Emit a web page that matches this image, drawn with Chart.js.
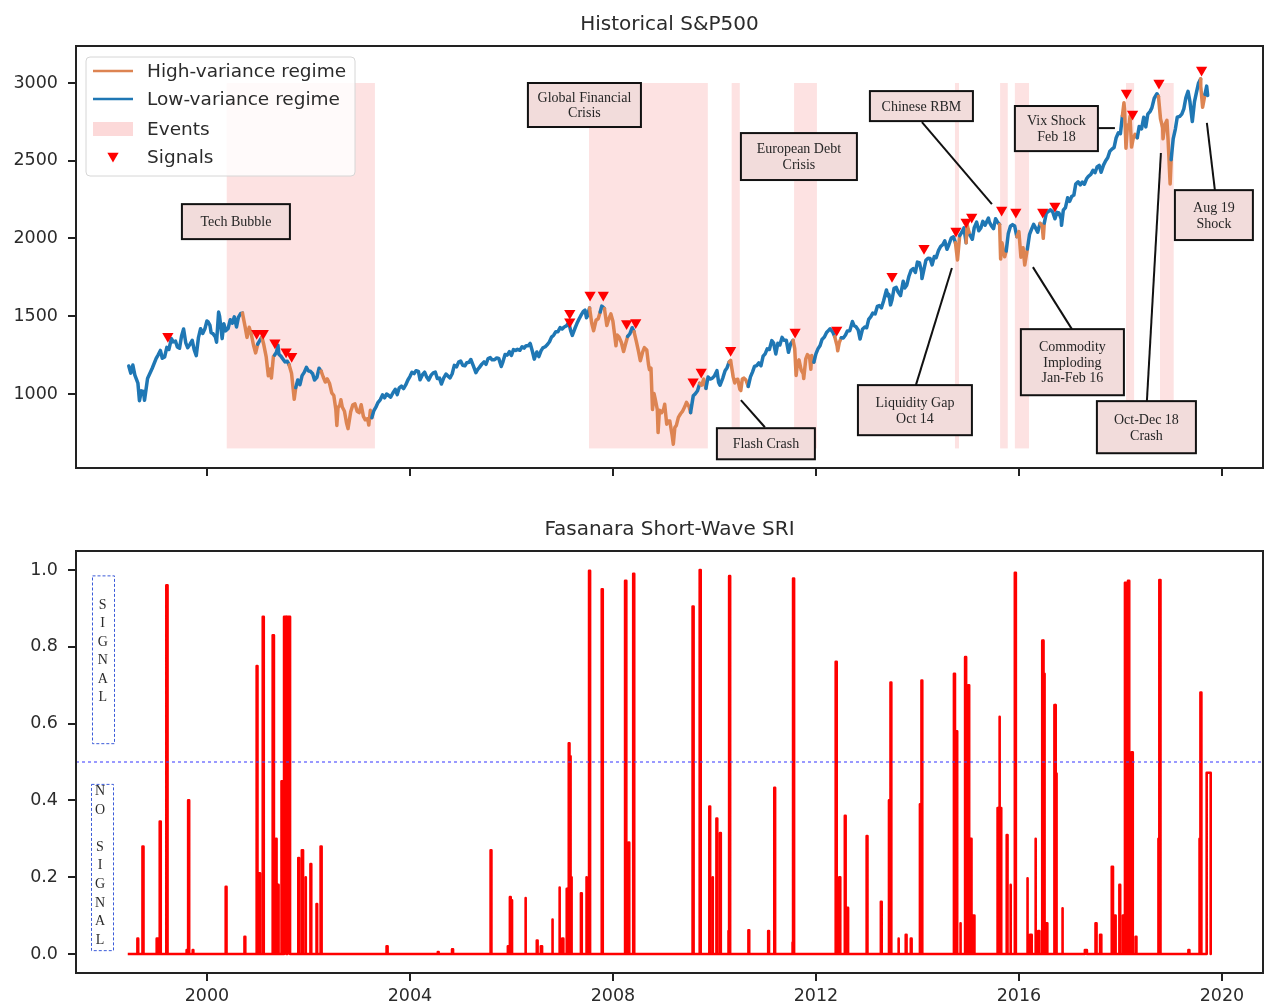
<!DOCTYPE html>
<html><head><meta charset="utf-8">
<script src="https://cdn.jsdelivr.net/npm/chart.js@4.4.1/dist/chart.umd.min.js"></script>
<style>
html,body{margin:0;padding:0;background:#fff;}
#wrap{position:relative;width:1265px;height:1006px;overflow:hidden;}
#c1{position:absolute;left:0;top:0;}
#c2{position:absolute;left:0;top:490px;}
</style></head><body>
<div id="wrap"><canvas id="c1" width="1265" height="490"></canvas><canvas id="c2" width="1265" height="516"></canvas></div>
<script>
// ---------------- DATA ----------------
const spTitle = 'Historical S&P500';
const sriTitle = 'Fasanara Short-Wave SRI';
const xTicks = [2000, 2004, 2008, 2012, 2016, 2020];
const spYTicks = [1000, 1500, 2000, 2500, 3000];
const sriYTicks = [0, 0.2, 0.4, 0.6, 0.8, 1.0];
const legendLabels = ['High-variance regime', 'Low-variance regime', 'Events', 'Signals'];

// S&P500 level [decimal year, index]
const spPoints = [
[1998.46,1180],[1998.50,1134],[1998.54,1186],[1998.58,1121],[1998.64,1070],[1998.67,957],[1998.71,1020],[1998.75,1017],[1998.77,960],[1998.83,1099],[1998.92,1164],
[1999.00,1229],[1999.04,1252],[1999.083,1280],[1999.12,1230],[1999.167,1238],[1999.21,1300],[1999.25,1286],[1999.30,1356],[1999.333,1335],[1999.38,1340],[1999.417,1302],[1999.46,1294],[1999.50,1373],[1999.54,1418],[1999.583,1329],[1999.62,1298],[1999.667,1320],[1999.71,1345],[1999.75,1283],[1999.79,1247],[1999.833,1363],[1999.875,1420],[1999.917,1389],[1999.96,1420],
[2000.00,1469],[2000.02,1465],[2000.06,1441],[2000.083,1394],[2000.12,1388],[2000.167,1366],[2000.19,1333],[2000.23,1527],[2000.25,1499],[2000.30,1356],[2000.333,1452],[2000.37,1406],[2000.417,1421],[2000.46,1478],[2000.50,1455],[2000.54,1496],[2000.583,1431],[2000.62,1492],[2000.667,1518],[2000.70,1520],[2000.75,1437],[2000.79,1364],[2000.833,1429],[2000.875,1383],[2000.917,1315],[2000.96,1264],
[2001.00,1320],[2001.04,1343],[2001.083,1366],[2001.12,1318],[2001.167,1240],[2001.21,1117],[2001.25,1160],[2001.27,1103],[2001.31,1242],[2001.333,1250],[2001.37,1268],[2001.40,1313],[2001.417,1256],[2001.46,1242],[2001.50,1224],[2001.54,1206],[2001.583,1211],[2001.62,1187],[2001.667,1134],[2001.72,966],[2001.75,1041],[2001.79,1090],[2001.833,1060],[2001.875,1118],[2001.917,1139],[2001.96,1171],
[2002.00,1148],[2002.04,1146],[2002.083,1130],[2002.12,1090],[2002.167,1107],[2002.21,1166],[2002.25,1147],[2002.29,1111],[2002.333,1077],[2002.37,1097],[2002.417,1067],[2002.46,1007],[2002.50,990],[2002.54,900],[2002.56,798],[2002.583,912],[2002.62,930],[2002.64,963],[2002.667,916],[2002.71,889],[2002.75,815],[2002.78,777],[2002.833,886],[2002.875,930],[2002.917,936],[2002.96,889],
[2003.00,880],[2003.04,931],[2003.083,856],[2003.12,834],[2003.167,841],[2003.19,800],[2003.22,895],[2003.25,848],[2003.29,893],[2003.333,917],[2003.37,945],[2003.417,964],[2003.46,994],[2003.50,975],[2003.54,1000],[2003.583,990],[2003.62,980],[2003.667,1008],[2003.71,1030],[2003.75,996],[2003.79,1040],[2003.833,1051],[2003.875,1035],[2003.917,1058],[2003.96,1090],
[2004.00,1112],[2004.04,1140],[2004.083,1131],[2004.12,1150],[2004.167,1145],[2004.20,1091],[2004.25,1126],[2004.29,1140],[2004.333,1107],[2004.37,1090],[2004.417,1121],[2004.46,1136],[2004.50,1141],[2004.54,1100],[2004.583,1102],[2004.62,1064],[2004.667,1104],[2004.71,1128],[2004.75,1115],[2004.79,1104],[2004.833,1130],[2004.875,1184],[2004.917,1174],[2004.96,1205],
[2005.00,1212],[2005.04,1185],[2005.083,1181],[2005.12,1201],[2005.167,1204],[2005.20,1222],[2005.25,1181],[2005.30,1137],[2005.333,1157],[2005.37,1171],[2005.417,1192],[2005.46,1206],[2005.50,1191],[2005.54,1228],[2005.583,1234],[2005.62,1220],[2005.667,1220],[2005.71,1232],[2005.75,1229],[2005.80,1177],[2005.833,1207],[2005.875,1254],[2005.917,1250],[2005.96,1272],
[2006.00,1248],[2006.04,1285],[2006.083,1280],[2006.12,1287],[2006.167,1281],[2006.21,1304],[2006.25,1295],[2006.29,1311],[2006.333,1311],[2006.37,1325],[2006.417,1270],[2006.45,1224],[2006.50,1270],[2006.54,1240],[2006.583,1277],[2006.62,1297],[2006.667,1304],[2006.71,1318],[2006.75,1336],[2006.79,1366],[2006.833,1378],[2006.875,1401],[2006.917,1401],[2006.96,1427],
[2007.00,1418],[2007.04,1431],[2007.083,1438],[2007.13,1460],[2007.167,1407],[2007.20,1377],[2007.25,1421],[2007.29,1453],[2007.333,1482],[2007.37,1505],[2007.417,1531],[2007.45,1539],[2007.48,1490],[2007.50,1503],[2007.54,1553],[2007.583,1455],[2007.62,1407],[2007.667,1474],[2007.71,1484],[2007.75,1527],[2007.78,1565],[2007.833,1549],[2007.88,1440],[2007.917,1481],[2007.96,1515],
[2008.00,1468],[2008.03,1390],[2008.06,1310],[2008.083,1379],[2008.12,1367],[2008.167,1331],[2008.21,1273],[2008.25,1323],[2008.29,1370],[2008.333,1386],[2008.38,1426],[2008.417,1400],[2008.46,1340],[2008.50,1280],[2008.54,1214],[2008.583,1267],[2008.62,1298],[2008.667,1283],[2008.70,1192],[2008.72,1156],[2008.75,1166],[2008.78,900],[2008.81,1003],[2008.833,969],[2008.875,900],[2008.89,752],[2008.917,896],[2008.96,880],
[2009.00,903],[2009.02,934],[2009.06,806],[2009.083,826],[2009.12,827],[2009.167,735],[2009.19,677],[2009.22,784],[2009.25,798],[2009.29,850],[2009.333,873],[2009.37,888],[2009.417,919],[2009.45,946],[2009.50,919],[2009.53,880],[2009.583,988],[2009.62,1000],[2009.667,1021],[2009.71,1068],[2009.75,1057],[2009.79,1096],[2009.833,1036],[2009.875,1109],[2009.917,1096],[2009.96,1102],
[2010.00,1115],[2010.05,1150],[2010.083,1074],[2010.11,1056],[2010.167,1104],[2010.21,1150],[2010.25,1169],[2010.29,1205],[2010.32,1217],[2010.333,1187],[2010.37,1110],[2010.40,1071],[2010.417,1089],[2010.46,1095],[2010.50,1031],[2010.52,1022],[2010.55,1096],[2010.583,1102],[2010.62,1090],[2010.667,1049],[2010.71,1110],[2010.75,1141],[2010.79,1177],[2010.833,1183],[2010.875,1200],[2010.917,1181],[2010.96,1243],
[2011.00,1258],[2011.04,1290],[2011.083,1286],[2011.13,1343],[2011.167,1327],[2011.21,1257],[2011.25,1326],[2011.29,1315],[2011.333,1364],[2011.37,1346],[2011.417,1345],[2011.46,1268],[2011.50,1321],[2011.55,1345],[2011.583,1292],[2011.61,1119],[2011.64,1204],[2011.667,1219],[2011.71,1154],[2011.75,1131],[2011.76,1099],[2011.80,1225],[2011.833,1253],[2011.875,1238],[2011.90,1159],[2011.917,1247],[2011.96,1205],
[2012.00,1258],[2012.04,1290],[2012.083,1312],[2012.12,1351],[2012.167,1366],[2012.21,1395],[2012.25,1409],[2012.28,1419],[2012.333,1398],[2012.37,1369],[2012.417,1310],[2012.43,1278],[2012.46,1330],[2012.50,1362],[2012.54,1360],[2012.583,1379],[2012.62,1405],[2012.667,1407],[2012.72,1466],[2012.75,1441],[2012.79,1433],[2012.833,1412],[2012.87,1353],[2012.917,1416],[2012.96,1430],
[2013.00,1426],[2013.04,1480],[2013.083,1498],[2013.12,1520],[2013.167,1515],[2013.21,1563],[2013.25,1569],[2013.29,1553],[2013.333,1598],[2013.39,1669],[2013.417,1631],[2013.44,1640],[2013.47,1573],[2013.50,1606],[2013.54,1680],[2013.583,1686],[2013.62,1656],[2013.667,1633],[2013.72,1725],[2013.75,1682],[2013.79,1700],[2013.833,1757],[2013.875,1795],[2013.917,1806],[2013.96,1782],
[2014.00,1848],[2014.04,1845],[2014.083,1783],[2014.09,1742],[2014.167,1860],[2014.21,1873],[2014.25,1872],[2014.29,1830],[2014.333,1884],[2014.37,1877],[2014.417,1924],[2014.46,1950],[2014.50,1960],[2014.54,1985],[2014.583,1931],[2014.62,1960],[2014.667,2003],[2014.71,2011],[2014.75,1972],[2014.79,1862],[2014.833,2018],[2014.875,2040],[2014.917,2068],[2014.96,1972],[2014.98,2090],
[2015.00,2059],[2015.04,2020],[2015.083,1995],[2015.12,2070],[2015.167,2105],[2015.21,2050],[2015.25,2068],[2015.29,2110],[2015.333,2086],[2015.40,2131],[2015.417,2107],[2015.46,2080],[2015.50,2063],[2015.54,2127],[2015.583,2104],[2015.62,2090],[2015.64,1868],[2015.667,1972],[2015.72,1882],[2015.75,1920],[2015.79,2030],[2015.833,2079],[2015.875,2089],[2015.917,2080],[2015.96,2012],
[2016.00,2044],[2016.04,1880],[2016.083,1940],[2016.115,1829],[2016.167,1932],[2016.21,2027],[2016.25,2060],[2016.29,2091],[2016.333,2065],[2016.37,2040],[2016.417,2097],[2016.46,2080],[2016.48,2001],[2016.50,2099],[2016.54,2163],[2016.583,2174],[2016.62,2184],[2016.667,2171],[2016.71,2127],[2016.75,2168],[2016.79,2164],[2016.833,2126],[2016.84,2085],[2016.875,2182],[2016.917,2199],[2016.96,2262],
[2017.00,2239],[2017.04,2270],[2017.083,2279],[2017.12,2350],[2017.167,2364],[2017.21,2345],[2017.25,2363],[2017.29,2349],[2017.333,2384],[2017.37,2400],[2017.417,2412],[2017.46,2438],[2017.50,2423],[2017.54,2460],[2017.583,2470],[2017.62,2426],[2017.667,2472],[2017.71,2500],[2017.75,2519],[2017.79,2560],[2017.833,2575],[2017.875,2585],[2017.917,2648],[2017.96,2680],
[2018.00,2674],[2018.04,2790],[2018.07,2873],[2018.083,2824],[2018.11,2581],[2018.14,2730],[2018.167,2714],[2018.19,2786],[2018.22,2588],[2018.25,2641],[2018.29,2670],[2018.333,2648],[2018.37,2720],[2018.417,2705],[2018.46,2780],[2018.50,2718],[2018.54,2800],[2018.583,2816],[2018.62,2840],[2018.667,2902],[2018.72,2931],[2018.75,2914],[2018.79,2770],[2018.833,2712],[2018.84,2641],[2018.875,2730],[2018.917,2760],[2018.94,2633],[2018.98,2351],
[2019.00,2507],[2019.04,2640],[2019.083,2704],[2019.12,2780],[2019.167,2785],[2019.21,2800],[2019.25,2834],[2019.29,2905],[2019.333,2946],[2019.37,2880],[2019.417,2752],[2019.46,2880],[2019.50,2942],[2019.54,3000],[2019.58,3025],[2019.583,2980],[2019.62,2844],[2019.667,2927],[2019.70,2980],[2019.72,2920]
];

// high-variance regime periods [start, end]
const highVarPeriods = [
[2000.71,2001.00],[2001.10,2001.34],[2001.64,2001.77],[2002.27,2003.27],
[2007.55,2007.74],[2007.84,2008.28],[2008.43,2009.52],[2009.71,2009.85],
[2010.30,2010.66],[2011.55,2011.98],[2012.38,2012.50],[2014.74,2014.84],
[2014.95,2015.03],[2015.63,2015.76],[2015.96,2016.16],[2016.41,2016.51],
[2018.05,2018.33],[2018.74,2019.01],[2019.57,2019.67]
];

// event windows [start, end]
const eventPeriods = [
[2000.39,2003.31],[2007.53,2009.87],[2010.34,2010.50],[2011.57,2012.02],
[2014.74,2014.82],[2015.63,2015.78],[2015.92,2016.20],[2018.11,2018.27],[2018.78,2019.05]
];
const eventTop = 3000;
const eventBottom = 650;

// signals [decimal year, level]
const signalPoints = [
[1999.23,1372],[2000.98,1391],[2001.11,1391],[2001.34,1329],[2001.56,1271],[2001.67,1243],
[2007.15,1520],[2007.15,1464],[2007.55,1636],[2007.81,1636],[2008.27,1454],[2008.45,1460],
[2009.58,1078],[2009.74,1142],[2010.32,1282],[2011.59,1398],[2012.41,1411],
[2013.50,1758],[2014.13,1938],[2014.76,2048],[2014.96,2106],[2015.07,2138],
[2015.66,2183],[2015.94,2170],[2016.47,2170],[2016.71,2209],
[2018.12,2936],[2018.24,2800],[2018.76,3000],[2019.60,3084]
];

// SRI spikes [decimal year, peak value, trading days elevated]
const sriSpikes = [
[1998.63,0.04,4],[1998.73,0.28,5],[1999.01,0.04,6],[1999.07,0.345,5],[1999.20,0.96,6],[1999.60,0.01,3],[1999.63,0.40,5],[1999.72,0.01,3],
[2000.37,0.175,4],[2000.74,0.045,4],[2000.98,0.75,4],[2001.03,0.21,4],[2001.10,0.878,5],[2001.285,0.76,3],[2001.30,0.83,5],[2001.36,0.30,3],[2001.40,0.18,3],[2001.47,0.45,4],
[2001.52,0.878,10],[2001.57,0.25,3],[2001.59,0.878,12],[2001.80,0.25,4],[2001.87,0.27,6],[2001.94,0.20,3],[2002.04,0.234,4],[2002.16,0.13,3],[2002.24,0.28,5],
[2003.54,0.02,5],[2004.55,0.005,4],[2004.83,0.012,5],[2005.59,0.27,4],[2005.93,0.02,4],[2005.97,0.148,4],[2006.00,0.14,3],[2006.27,0.146,4],[2006.50,0.035,4],[2006.58,0.02,6],
[2006.80,0.09,4],[2006.94,0.173,4],[2007.00,0.04,6],[2007.09,0.17,3],[2007.13,0.549,3],[2007.145,0.515,3],[2007.17,0.20,4],[2007.37,0.158,4],[2007.47,0.20,4],[2007.53,0.998,5],
[2007.78,0.95,5],[2008.24,0.972,6],[2008.31,0.29,3],[2008.40,0.99,5],[2009.57,0.905,5],[2009.71,1.0,5],[2009.90,0.384,4],[2009.96,0.20,3],[2010.04,0.353,4],[2010.11,0.315,4],
[2010.27,0.06,3],[2010.29,0.984,5],[2010.67,0.062,4],[2011.06,0.06,4],[2011.18,0.433,4],[2011.53,0.03,4],[2011.55,0.978,5],[2012.39,0.761,5],[2012.46,0.20,5],[2012.57,0.36,4],
[2012.61,0.12,6],[2013.00,0.307,4],[2013.28,0.136,4],[2013.44,0.40,3],[2013.47,0.707,4],[2013.62,0.04,4],[2013.77,0.05,4],[2013.87,0.04,4],[2014.05,0.39,3],[2014.08,0.712,4],
[2014.72,0.73,5],[2014.76,0.58,6],[2014.84,0.08,4],[2014.94,0.773,5],[2015.00,0.70,5],[2015.05,0.30,4],[2015.10,0.10,6],[2015.58,0.38,3],[2015.61,0.618,4],[2015.64,0.38,3],
[2015.76,0.31,4],[2015.83,0.18,3],[2015.92,0.993,5],[2016.16,0.197,4],[2016.22,0.05,8],[2016.32,0.30,4],[2016.38,0.06,6],[2016.46,0.816,4],[2016.49,0.73,4],[2016.54,0.08,5],
[2016.70,0.648,4],[2016.73,0.47,3],[2016.85,0.119,4],[2017.30,0.01,10],[2017.51,0.08,5],[2017.60,0.05,6],[2017.83,0.227,6],[2017.89,0.10,4],[2017.98,0.18,4],[2018.05,0.10,3],
[2018.09,0.967,6],[2018.15,0.972,6],[2018.22,0.525,6],[2018.30,0.045,4],[2018.75,0.30,3],[2018.77,0.974,5],[2019.34,0.01,5],[2019.56,0.30,3],[2019.58,0.681,4],[2019.70,0.472,20]
];
const sriSpan = [1998.44, 2019.79];
const sriThreshold = 0.5;

// ---------------- LAYOUT / STYLE ----------------
const X_MIN = 1997.42, X_MAX = 2020.81;
const BLUE = '#1f77b4', ORANGE = '#dd8452', EVENT = '#fde2e2', RED = '#ff0000';
const FONT = 'DejaVu Sans';
const SERIF = '"Liberation Serif", "DejaVu Serif", serif';
const annotations = [
 {text:['Tech Bubble'], x:[1999.507,2001.635], y:[2221,1996]},
 {text:['Global Financial','Crisis'], x:[2006.325,2008.552], y:[3000,2717]},
 {text:['European Debt','Crisis'], x:[2010.522,2012.808], y:[2678,2376]},
 {text:['Flash Crash'], x:[2010.049,2011.980], y:[780,580], link:[[2010.995,786],[2010.522,960]]},
 {text:['Chinese RBM'], x:[2013.064,2015.094], y:[2948,2755], link:[[2014.089,2749],[2015.468,2221]]},
 {text:['Vix Shock','Feb 18'], x:[2015.921,2017.557], y:[2852,2562], link:[[2017.557,2710],[2017.892,2710]]},
 {text:['Aug 19','Shock'], x:[2019.074,2020.611], y:[2311,1990], link:[[2019.862,2311],[2019.704,2743]]},
 {text:['Liquidity Gap','Oct 14'], x:[2012.828,2015.074], y:[1057,735], link:[[2013.970,1057],[2014.680,1810]]},
 {text:['Commodity','Imploding','Jan-Feb 16'], x:[2016.039,2018.069], y:[1417,992], link:[[2017.044,1417],[2016.276,1816]]},
 {text:['Oct-Dec 18','Crash'], x:[2017.537,2019.488], y:[954,619], link:[[2018.522,954],[2018.798,2550]]}
];

Chart.defaults.font.family = FONT;
Chart.defaults.color = '#333';

function isHigh(x) {
  for (const [s, e] of highVarPeriods) if (x >= s && x < e) return true;
  return false;
}

function axisGrid() {
  return {display:true, drawOnChartArea:false, drawTicks:true, tickLength:8, tickWidth:2, tickColor:'#222', lineWidth:2, color:'#222'};
}
function xScale(showLabels, h) {
  return {
    type:'linear', min:X_MIN, max:X_MAX,
    afterBuildTicks: s => { s.ticks = xTicks.map(v => ({value:v})); },
    afterFit: s => { s.height = h; },
    grid: axisGrid(), border:{display:false},
    ticks:{autoSkip:false, maxRotation:0, padding:5, font:{size:17.5}, color:'#2b2b2b',
           callback: v => showLabels ? String(v) : ''}
  };
}
function yScale(min, max, ticks, fmt) {
  return {
    type:'linear', min, max,
    afterBuildTicks: s => { s.ticks = ticks.map(v => ({value:v})); },
    afterFit: s => { s.width = 76; },
    grid: axisGrid(), border:{display:false},
    ticks:{autoSkip:false, padding:10, font:{size:17.5}, color:'#2b2b2b', callback: fmt}
  };
}

function titlePlugin(text, y) {
  return {
    id:'centeredTitle',
    afterDraw(chart) {
      const a = chart.chartArea, c = chart.ctx;
      c.save();
      c.fillStyle = '#2b2b2b'; c.font = '20px ' + FONT;
      c.textAlign = 'center'; c.textBaseline = 'middle';
      c.fillText(text, (a.left + a.right) / 2, y);
      c.restore();
    }
  };
}

const framePlugin = {
  id:'frame',
  afterDraw(chart) {
    const a = chart.chartArea, c = chart.ctx;
    c.save(); c.strokeStyle = '#222'; c.lineWidth = 2;
    c.strokeRect(a.left, a.top, a.right - a.left, a.bottom - a.top);
    c.restore();
  }
};

const eventsPlugin = {
  id:'events',
  beforeDatasetsDraw(chart) {
    const c = chart.ctx, xs = chart.scales.x, ys = chart.scales.y, a = chart.chartArea;
    c.save();
    c.beginPath(); c.rect(a.left, a.top, a.right - a.left, a.bottom - a.top); c.clip();
    c.fillStyle = EVENT;
    const yt = ys.getPixelForValue(eventTop), yb = ys.getPixelForValue(eventBottom);
    for (const [s, e] of eventPeriods) {
      const x0 = xs.getPixelForValue(s), x1 = xs.getPixelForValue(e);
      c.fillRect(x0, yt, x1 - x0, yb - yt);
    }
    c.restore();
  }
};

const annoPlugin = {
  id:'anno',
  afterDatasetsDraw(chart) {
    const c = chart.ctx, xs = chart.scales.x, ys = chart.scales.y;
    c.save();
    c.strokeStyle = '#111'; c.lineWidth = 2;
    for (const an of annotations) {
      if (!an.link) continue;
      c.beginPath();
      c.moveTo(xs.getPixelForValue(an.link[0][0]), ys.getPixelForValue(an.link[0][1]));
      c.lineTo(xs.getPixelForValue(an.link[1][0]), ys.getPixelForValue(an.link[1][1]));
      c.stroke();
    }
    for (const an of annotations) {
      const x0 = xs.getPixelForValue(an.x[0]), x1 = xs.getPixelForValue(an.x[1]);
      const y0 = ys.getPixelForValue(an.y[0]), y1 = ys.getPixelForValue(an.y[1]);
      c.fillStyle = '#f2dcdb';
      c.fillRect(x0, y0, x1 - x0, y1 - y0);
      c.strokeStyle = '#111'; c.lineWidth = 2;
      c.strokeRect(x0, y0, x1 - x0, y1 - y0);
      c.fillStyle = '#262626';
      c.font = '14px ' + SERIF;
      c.textAlign = 'center'; c.textBaseline = 'middle';
      const lh = 15.5, cx = (x0 + x1) / 2, cy = (y0 + y1) / 2;
      const n = an.text.length;
      an.text.forEach((t, i) => c.fillText(t, cx, cy + (i - (n - 1) / 2) * lh + 1));
    }
    c.restore();
  }
};

function rr(c, x, y, w, h, r) {
  c.beginPath();
  c.moveTo(x + r, y); c.lineTo(x + w - r, y); c.arcTo(x + w, y, x + w, y + r, r);
  c.lineTo(x + w, y + h - r); c.arcTo(x + w, y + h, x + w - r, y + h, r);
  c.lineTo(x + r, y + h); c.arcTo(x, y + h, x, y + h - r, r);
  c.lineTo(x, y + r); c.arcTo(x, y, x + r, y, r); c.closePath();
}
function tri(c, x, y, r) {
  c.beginPath();
  c.moveTo(x, y + r);
  c.lineTo(x - r * 0.866, y - r * 0.5);
  c.lineTo(x + r * 0.866, y - r * 0.5);
  c.closePath(); c.fill();
}

const legendPlugin = {
  id:'legendBox',
  afterDatasetsDraw(chart) {
    const c = chart.ctx, a = chart.chartArea;
    const L = a.left, T = a.top;
    c.save();
    rr(c, L + 10, T + 11, 269, 119, 4);
    c.fillStyle = 'rgba(255,255,255,0.82)'; c.fill();
    c.strokeStyle = '#d6d6d6'; c.lineWidth = 1; c.stroke();
    const rows = [T + 25, T + 53, T + 83, T + 111];
    c.lineWidth = 2.5;
    c.strokeStyle = ORANGE; c.beginPath(); c.moveTo(L + 17, rows[0]); c.lineTo(L + 57, rows[0]); c.stroke();
    c.strokeStyle = BLUE; c.beginPath(); c.moveTo(L + 17, rows[1]); c.lineTo(L + 57, rows[1]); c.stroke();
    c.fillStyle = '#fcd9d9'; c.fillRect(L + 17, rows[2] - 7, 40, 14);
    c.fillStyle = RED; tri(c, L + 37, rows[3] - 1, 6.5);
    c.fillStyle = '#2b2b2b'; c.font = '18.5px ' + FONT; c.textAlign = 'left'; c.textBaseline = 'middle';
    legendLabels.forEach((t, i) => c.fillText(t, L + 71, rows[i] + 1));
    c.restore();
  }
};

const sriBoxPlugin = {
  id:'sriBoxes',
  afterDatasetsDraw(chart) {
    const c = chart.ctx, a = chart.chartArea, ys = chart.scales.y;
    c.save();
    c.strokeStyle = '#3b5bd9'; c.lineWidth = 1; c.setLineDash([3, 2]);
    const boxes = [
      {x:[16, 38], y:[0.986, 0.549], letters:['S','I','G','N','A','L'], off:29.5, cx:26.7},
      {x:[15, 37], y:[0.443, 0.010], letters:['N','O','','S','I','G','N','A','L'], off:7.7, cx:24}
    ];
    for (const b of boxes) {
      const y0 = ys.getPixelForValue(b.y[0]), y1 = ys.getPixelForValue(b.y[1]);
      c.strokeRect(a.left + b.x[0] + 0.5, y0 + 0.5, b.x[1] - b.x[0], y1 - y0);
      c.fillStyle = '#2b2b2b'; c.font = '14px ' + SERIF; c.textAlign = 'center'; c.textBaseline = 'middle';
      b.letters.forEach((t, i) => c.fillText(t, a.left + b.cx, y0 + b.off + i * 18.55));
    }
    c.restore();
  }
};

// ---------------- CHART 1 ----------------
new Chart(document.getElementById('c1'), {
  type:'line',
  data:{datasets:[
    {label:'Signals', data:signalPoints.map(([x, y]) => ({x, y})), showLine:false,
     pointStyle:'triangle', pointRotation:180, pointRadius:6.5, pointHoverRadius:6.5,
     pointBackgroundColor:RED, pointBorderWidth:0, pointBorderColor:RED},
    {label:'S&P500', data:spPoints.map(([x, y]) => ({x, y})), borderColor:BLUE, borderWidth:3.5,
     pointRadius:0, tension:0, borderJoinStyle:'round', borderCapStyle:'round',
     segment:{borderColor: ctx => isHigh((ctx.p0.parsed.x + ctx.p1.parsed.x) / 2) ? ORANGE : BLUE}}
  ]},
  options:{
    responsive:false, animation:false, devicePixelRatio:1, events:[],
    layout:{autoPadding:false, padding:{left:0, right:2, top:46, bottom:0}},
    scales:{x:xScale(false, 22), y:yScale(524, 3238, spYTicks, v => String(v))},
    plugins:{legend:{display:false}, tooltip:{enabled:false}, title:{display:false}}
  },
  plugins:[eventsPlugin, annoPlugin, legendPlugin, framePlugin, titlePlugin(spTitle, 25)]
});

// ---------------- CHART 2 ----------------
const sriData = [{x:sriSpan[0], y:0}];
for (const [d, p, days] of sriSpikes) {
  const e = d + days / 252;
  sriData.push({x:d, y:0}, {x:d, y:p}, {x:e, y:p}, {x:e, y:0});
}
sriData.push({x:sriSpan[1], y:0});

new Chart(document.getElementById('c2'), {
  type:'line',
  data:{datasets:[
    {label:'Threshold', data:[{x:X_MIN, y:sriThreshold}, {x:X_MAX, y:sriThreshold}], borderColor:'rgba(70,70,255,0.85)',
     borderWidth:1.3, borderDash:[3, 3], pointRadius:0},
    {label:'SRI', data:sriData, borderColor:RED, borderWidth:2.6, pointRadius:0, tension:0, borderJoinStyle:'round'}
  ]},
  options:{
    responsive:false, animation:false, devicePixelRatio:1, events:[],
    layout:{autoPadding:false, padding:{left:0, right:2, top:61, bottom:0}},
    scales:{x:xScale(true, 33), y:yScale(-0.0495, 1.0495, sriYTicks, v => Number(v).toFixed(1))},
    plugins:{legend:{display:false}, tooltip:{enabled:false}, title:{display:false}}
  },
  plugins:[sriBoxPlugin, framePlugin, titlePlugin(sriTitle, 40)]
});
</script>
</body></html>
